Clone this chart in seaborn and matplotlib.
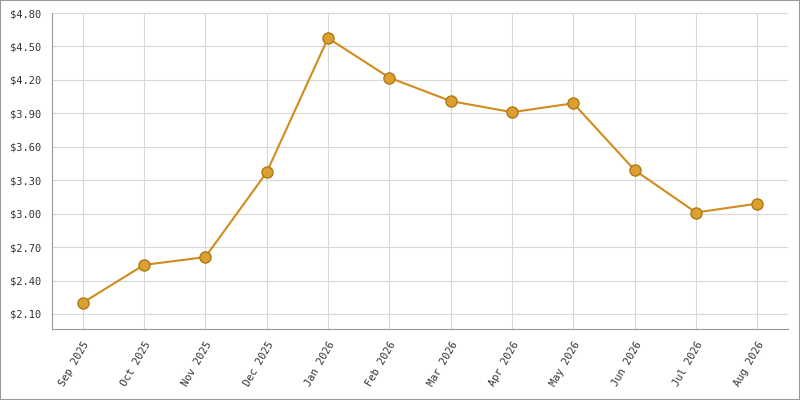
import matplotlib
matplotlib.use("Agg")
import matplotlib.pyplot as plt
import seaborn as sns
import pandas as pd
from matplotlib.patches import Rectangle

months = ["Sep 2025","Oct 2025","Nov 2025","Dec 2025","Jan 2026","Feb 2026",
          "Mar 2026","Apr 2026","May 2026","Jun 2026","Jul 2026","Aug 2026"]
prices = [2.20, 2.54, 2.61, 3.37, 4.575, 4.22, 4.01, 3.91, 3.99, 3.39, 3.01, 3.09]
yticks = [2.10, 2.40, 2.70, 3.00, 3.30, 3.60, 3.90, 4.20, 4.50, 4.80]

df = pd.DataFrame({"x": range(len(months)), "price": prices})

sns.set_style("white")
plt.rcParams['font.family'] = ['DejaVu Sans Mono', 'DejaVu Sans']
fig = plt.figure(figsize=(8, 4), dpi=100)
ax = fig.add_axes([0.065, 0.1775, 0.92, 0.79])
sns.lineplot(data=df, x="x", y="price", ax=ax, color="#d08c1c", linewidth=1.5,
             marker="o", markersize=8, markerfacecolor="#dba030",
             markeredgecolor="#b07818", markeredgewidth=1, zorder=3)
ax.set_xlim(-0.5, len(months) - 0.5)
ax.set_ylim(1.965, 4.80)
ax.set_xticks(range(len(months)))
ax.set_xticklabels(months, rotation=60, ha="right", rotation_mode="anchor", fontsize=7.5)
ax.set_yticks(yticks)
ax.set_yticklabels([f"${v:.2f}" for v in yticks], fontsize=7.5)
ax.grid(True, color="#d8d8d8", linewidth=0.8)
ax.set_xlabel("")
ax.set_ylabel("")
for s in ["top", "right"]:
    ax.spines[s].set_visible(False)
for s in ["left", "bottom"]:
    ax.spines[s].set_color("#999999")
ax.tick_params(axis="both", length=4, color="#999999", labelcolor="#333333")
fig.patches.append(Rectangle((0, 0), 1, 1, transform=fig.transFigure, fill=False,
                             edgecolor="#999999", linewidth=1.5))
fig.savefig("out.png", dpi=100)
